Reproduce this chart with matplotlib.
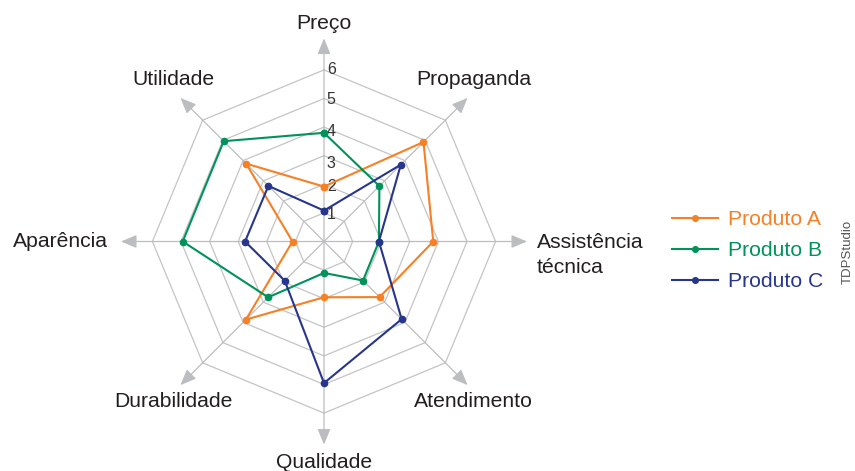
import numpy as np
import matplotlib
matplotlib.use("Agg")
import matplotlib.pyplot as plt

plt.rcParams['font.family'] = ['Liberation Sans', 'DejaVu Sans']

# categories, clockwise from the top
categories = ["Preço", "Propaganda", "Assistência\ntécnica", "Atendimento",
              "Qualidade", "Durabilidade", "Aparência", "Utilidade"]

# values (in grid-ring units)
produto_a = [1.92, 4.92, 3.82, 2.75, 1.95, 3.86, 1.10, 3.85]
produto_b = [3.80, 2.74, 1.92, 1.93, 1.10, 2.76, 4.94, 4.96]
produto_c = [1.08, 3.80, 1.92, 3.84, 4.95, 1.94, 2.76, 2.75]

series_names = ["Produto A", "Produto B", "Produto C"]
series_colors = ["#f58025", "#00925b", "#27358c"]

ring_levels = [1, 2, 3, 4, 5, 6]
tick_labels = ["1", "2", "3", "4", "5", "6"]
tick_pos = [0.95, 1.92, 2.73, 3.84, 4.95, 6.0]

# layout (pixels of the 855x471 image)
W, H = 855, 471
cx, cy = 324, 241.5
unit = 28.6
arrow_r = 7.1

fig = plt.figure(figsize=(W / 100, H / 100), dpi=100)
ax = fig.add_axes([0, 0, 1, 1])
ax.set_xlim(-cx / unit, (W - cx) / unit)
ax.set_ylim(-(H - cy) / unit, cy / unit)
ax.axis("off")

n = len(categories)
theta = np.arange(n) * 2 * np.pi / n
sx, sy = np.sin(theta), np.cos(theta)

grid_col = "#c4c4c6"
# octagon rings
for r in ring_levels:
    ax.plot(np.append(r * sx, r * sx[0]), np.append(r * sy, r * sy[0]),
            color=grid_col, lw=0.9, zorder=1)
# spokes with arrow heads
for i in range(n):
    ax.annotate("", xy=(arrow_r * sx[i], arrow_r * sy[i]), xytext=(0, 0),
                arrowprops=dict(arrowstyle="-|>,head_length=0.48,head_width=0.2",
                                color="#bcbdc0", lw=0.9, mutation_scale=20,
                                shrinkA=0, shrinkB=0), zorder=1)

# radial tick labels
for p, t in zip(tick_pos, tick_labels):
    ax.text(0.1, p, t, fontsize=11.5, color="#333333", ha="left", va="center", zorder=2)

# series
handles = []
for vals, name, col in zip([produto_a, produto_b, produto_c], series_names, series_colors):
    v = np.array(vals)
    xs = np.append(v * sx, v[0] * sx[0])
    ys = np.append(v * sy, v[0] * sy[0])
    ln, = ax.plot(xs, ys, color=col, lw=1.5, marker="o", ms=4.5, zorder=3, label=name)
    handles.append(ln)

# category labels
lab_xy = [(0, 7.62), (5.24, 5.65), (7.45, -0.47), (5.24, -5.61),
          (0, -7.72), (-5.28, -5.61), (-7.55, 0.0), (-5.28, 5.65)]
lab_ha = ["center", "center", "left", "center", "center", "center", "right", "center"]
for (x, y), t, ha in zip(lab_xy, categories, lab_ha):
    ax.text(x, y, t, fontsize=15.2, color="#231f20", ha=ha, va="center",
            linespacing=1.43, zorder=2)

leg = ax.legend(handles=handles, loc="upper left", bbox_to_anchor=(672 / W, 1 - 210 / H),
                frameon=False, fontsize=15.2, handlelength=2.2, handletextpad=0.45,
                labelspacing=0.58, numpoints=1, markerscale=0.9, borderpad=0,
                borderaxespad=0, labelcolor="linecolor")

fig.text(848 / W, 1 - 252 / H, "TDPStudio", rotation=90, fontsize=9.5,
         color="#555555", ha="center", va="center")

fig.savefig("out.png", dpi=100)
